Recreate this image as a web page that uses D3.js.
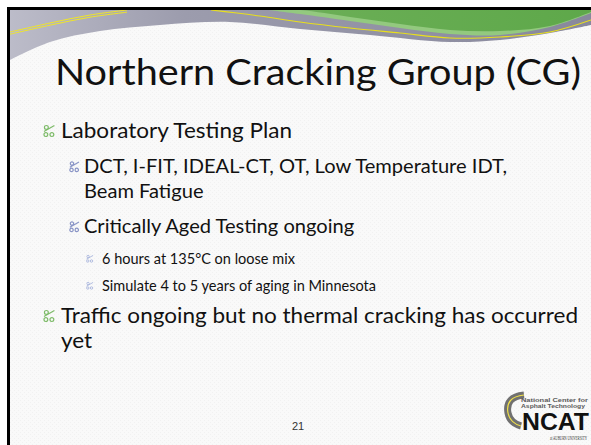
<!DOCTYPE html>
<html>
<head>
<meta charset="utf-8">
<script src="https://cdn.jsdelivr.net/npm/d3@7"></script>
<style>
  html, body { margin: 0; padding: 0; background: #fff; }
  svg { display: block; }
</style>
</head>
<body>
<svg id="slide" width="591" height="445"></svg>
<script>
// slide content
const titleText = "Northern Cracking Group (CG)";
const bulletLevels = [1, 2, 2, 3, 3, 1];
const bulletLines = [
  ["Laboratory Testing Plan"],
  ["DCT, I-FIT, IDEAL-CT, OT, Low Temperature IDT,", "Beam Fatigue"],
  ["Critically Aged Testing ongoing"],
  ["6 hours at 135°C on loose mix"],
  ["Simulate 4 to 5 years of aging in Minnesota"],
  ["Traffic ongoing but no thermal cracking has occurred", "yet"]
];
const pageNumber = "21";
const logoLines = ["National Center for", "Asphalt Technology"];
const logoMark = "NCAT";
const logoFooter = "at AUBURN UNIVERSITY";

// top ornament outlines (x, y)
const grayEdge = [[10, 60], [50, 42], [100, 31], [160, 25], [230, 22], [300, 29], [370, 35], [450, 42], [500, 40], [550, 33], [591, 25]];
const greenEdge = [[268, 10], [300, 14], [350, 21], [400, 28], [450, 34], [500, 35], [550, 27], [591, 13]];
const yellowRight = [[211, 10], [260, 16], [300, 22], [350, 28], [400, 33], [450, 38], [500, 37], [550, 32], [591, 20]];
const yellowLeft = [[10, 32], [50, 23], [90, 15], [127, 10]];

const svg = d3.select("#slide");
const W = 591, H = 445;
const font = "Lato, 'Open Sans', sans-serif";

// ---- background
const defs = svg.append("defs");
const pat = defs.append("pattern").attr("id", "tex")
  .attr("width", 4).attr("height", 4).attr("patternUnits", "userSpaceOnUse");
pat.append("rect").attr("width", 4).attr("height", 4).attr("fill", "#f9f9f9");
pat.append("rect").attr("x", 0).attr("y", 0).attr("width", 1).attr("height", 1).attr("fill", "#f1f1f1");
pat.append("rect").attr("x", 2).attr("y", 2).attr("width", 1).attr("height", 1).attr("fill", "#f1f1f1");

const grayGrad = defs.append("linearGradient").attr("id", "grayGrad")
  .attr("gradientUnits", "userSpaceOnUse")
  .attr("x1", 10).attr("x2", W).attr("y1", 0).attr("y2", 0);
grayGrad.append("stop").attr("offset", "0%").attr("stop-color", "#bcbcc9");
grayGrad.append("stop").attr("offset", "30%").attr("stop-color", "#9c9cad");
grayGrad.append("stop").attr("offset", "100%").attr("stop-color", "#88889c");

const greenGrad = defs.append("linearGradient").attr("id", "greenGrad")
  .attr("gradientUnits", "userSpaceOnUse")
  .attr("x1", 268).attr("x2", W).attr("y1", 0).attr("y2", 0);
greenGrad.append("stop").attr("offset", "0%").attr("stop-color", "#8fb08c");
greenGrad.append("stop").attr("offset", "18%").attr("stop-color", "#6aae55");
greenGrad.append("stop").attr("offset", "100%").attr("stop-color", "#5ea84a");

svg.append("rect").attr("width", W).attr("height", H).attr("fill", "#fff");
svg.append("rect").attr("x", 10).attr("y", 10).attr("width", W - 10).attr("height", H - 10)
  .attr("fill", "url(#tex)");

const curve = d3.line().curve(d3.curveCatmullRom.alpha(0.5));

// gray band
svg.append("path")
  .attr("d", curve(grayEdge) + `L${W},10L10,10Z`)
  .attr("fill", "url(#grayGrad)");

// green wave (light strip underneath, darker body on top)
svg.append("path")
  .attr("d", curve(greenEdge) + `L${W},10Z`)
  .attr("fill", "#93c97f");
svg.append("path")
  .attr("d", curve(greenEdge.map(([x, y]) => [x, y - (x > 290 && x < 540 ? 4 : 1)])) + `L${W},10Z`)
  .attr("fill", "url(#greenGrad)");

// yellow lines
svg.append("path").attr("d", curve(yellowRight))
  .attr("fill", "none").attr("stroke", "#e8df1c").attr("stroke-width", 1.1);
[0, 2.2].forEach(dy => {
  svg.append("path").attr("d", curve(yellowLeft.map(([x, y]) => [x, y + dy])))
    .attr("fill", "none").attr("stroke", "#efe52a").attr("stroke-width", 1);
});

// frame
svg.append("rect").attr("x", 7).attr("y", 7).attr("width", W - 7).attr("height", 3).attr("fill", "#000");
svg.append("rect").attr("x", 7).attr("y", 7).attr("width", 3).attr("height", H - 7).attr("fill", "#000");

// ---- measuring helper: width of a text at a given size
function measure(text, size, family) {
  const t = svg.append("text").attr("font-family", family).attr("font-size", size).text(text);
  const w = t.node().getComputedTextLength();
  t.remove();
  return w;
}

// title: size from cap height, squeezed to the width seen in the picture
svg.append("text")
  .attr("x", 55).attr("y", 85)
  .attr("font-family", font)
  .attr("font-size", 36)
  .attr("textLength", 526).attr("lengthAdjust", "spacingAndGlyphs")
  .attr("fill", "#111")
  .text(titleText);

// ---- bullets
const levels = [1, 2, 3];
const indent = d3.scaleOrdinal().domain(levels).range([61, 84, 102]);
const markX = d3.scaleOrdinal().domain(levels).range([43, 69, 86]);
const markSize = d3.scaleOrdinal().domain(levels).range([12, 10.5, 7.5]);
const markColor = d3.scaleOrdinal().domain(levels).range(["#7dbb68", "#8a95c6", "#a9b6dc"]);
const fontSize = d3.scaleOrdinal().domain(levels).range([22, 19.5, 15.2]);
const gapBefore = d3.scaleOrdinal().domain(levels).range([32.5, 35, 27]);
const stepDown = 3.5;   // extra room when a deeper level starts
const wrapStep = 25;

const squeeze = {
  1: 517 / measure(bulletLines[5][0], fontSize(1), font),
  2: 423 / measure(bulletLines[1][0], fontSize(2), font),
  3: 274 / measure(bulletLines[4][0], fontSize(3), font)
};

let y = 138 - gapBefore(1);
let prev = 1;
const rows = [];
bulletLines.forEach((lines, i) => {
  const lv = bulletLevels[i];
  lines.forEach((line, j) => {
    if (j === 0) y += gapBefore(lv) + (i > 0 && lv === 3 && prev < 3 ? stepDown : 0);
    else y += wrapStep;
    rows.push({ level: lv, text: line, y: y, first: j === 0 });
  });
  prev = lv;
});

svg.selectAll(".line").data(rows).join("text")
  .attr("class", "line")
  .attr("x", d => indent(d.level))
  .attr("y", d => d.y)
  .attr("font-family", font)
  .attr("font-size", d => fontSize(d.level))
  .attr("textLength", d => measure(d.text, fontSize(d.level), font) * squeeze[d.level])
  .attr("lengthAdjust", "spacingAndGlyphs")
  .attr("fill", "#111")
  .text(d => d.text);

// bullet glyph: small ring + slash over two rings
function glyph(s) {
  const r = s * 0.16;
  const ring = (cx, cy) => `M${cx + r},${cy}A${r},${r} 0 1 0 ${cx - r},${cy}A${r},${r} 0 1 0 ${cx + r},${cy}`;
  return ring(s * 0.28, s * 0.2) + ring(s * 0.24, s * 0.8) + ring(s * 0.74, s * 0.8) +
    `M${s * 0.95},${s * 0.05}L${s * 0.08},${s * 0.55}`;
}

svg.selectAll(".mark").data(rows.filter(d => d.first)).join("path")
  .attr("class", "mark")
  .attr("transform", d => `translate(${markX(d.level)},${d.y - markSize(d.level) - 1})`)
  .attr("d", d => glyph(markSize(d.level)))
  .attr("fill", "none")
  .attr("stroke", d => markColor(d.level))
  .attr("stroke-width", d => d.level === 3 ? 0.9 : 1.2);

// page number
svg.append("text")
  .attr("x", 298).attr("y", 430)
  .attr("text-anchor", "middle")
  .attr("font-family", "'Liberation Sans', Arial, sans-serif")
  .attr("font-size", 11)
  .attr("fill", "#333")
  .text(pageNumber);

// ---- NCAT logo
const logo = svg.append("g");
const road = "M524,395 Q505,397 508,413 Q510,423 521,426";
logo.append("path").attr("d", road).attr("fill", "none").attr("stroke", "#707070").attr("stroke-width", 7);
logo.append("path").attr("d", road).attr("fill", "none").attr("stroke", "#f0e04a").attr("stroke-width", 1.2);
logo.selectAll(".ll").data(logoLines).join("text")
  .attr("class", "ll")
  .attr("x", 521).attr("y", (d, i) => 402 + i * 6.2)
  .attr("font-family", "'Liberation Sans', Arial, sans-serif")
  .attr("font-weight", 700).attr("font-size", 6)
  .attr("textLength", (d, i) => i === 0 ? 67 : 64)
  .attr("lengthAdjust", "spacingAndGlyphs")
  .attr("fill", "#5a5a5a")
  .text(d => d);
logo.append("text")
  .attr("x", 522).attr("y", 430)
  .attr("font-family", "'Liberation Sans', Arial, sans-serif")
  .attr("font-weight", 700).attr("font-size", 23.5)
  .attr("textLength", 67).attr("lengthAdjust", "spacingAndGlyphs")
  .attr("fill", "#111")
  .text(logoMark);
logo.append("text")
  .attr("x", 550).attr("y", 439.5)
  .attr("font-family", "'Liberation Serif', serif")
  .attr("font-size", 5.6)
  .attr("textLength", 37).attr("lengthAdjust", "spacingAndGlyphs")
  .attr("fill", "#333")
  .text(logoFooter);
</script>
</body>
</html>
